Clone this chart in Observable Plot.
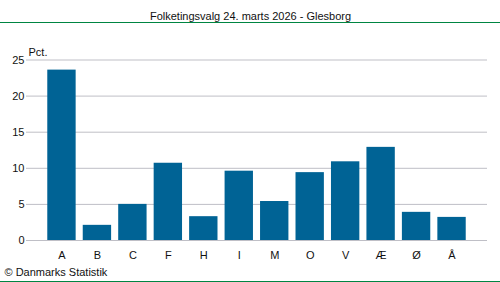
<!DOCTYPE html>
<html>
<head>
<meta charset="utf-8">
<script src="https://cdn.jsdelivr.net/npm/d3@7"></script>
<script src="https://cdn.jsdelivr.net/npm/@observablehq/plot@0.6"></script>
<style>
  html, body { margin: 0; padding: 0; background: #fff; }
  #wrap { position: relative; width: 500px; height: 282px; overflow: hidden; }
  .gline { position: absolute; left: 0; width: 500px; height: 1px; background: #008542; }
</style>
</head>
<body>
<div id="wrap">
  <div class="gline" style="top:22px"></div>
  <div class="gline" style="top:281px"></div>
</div>
<script>
const titleText = "Folketingsvalg 24. marts 2026 - Glesborg";
const unitLabel = "Pct.";
const captionText = "© Danmarks Statistik";
const parties = ["A", "B", "C", "F", "H", "I", "M", "O", "V", "Æ", "Ø", "Å"];
const values = [23.6, 2.1, 5.0, 10.7, 3.3, 9.6, 5.4, 9.4, 10.9, 12.9, 3.9, 3.2];
const yTicks = [0, 5, 10, 15, 20, 25];

const data = parties.map((p, i) => ({party: p, value: values[i]}));

const chart = Plot.plot({
  width: 500,
  height: 282,
  marginTop: 59.5,
  marginBottom: 42,
  marginLeft: 26,
  marginRight: 13,
  style: {fontFamily: "'Liberation Sans', Arial, sans-serif", fontSize: "11px", color: "#111", background: "transparent"},
  x: {domain: parties, paddingInner: 0.2, paddingOuter: 0.6, round: false, label: null},
  y: {domain: [0, 25], label: null},
  marks: [
    Plot.ruleY(yTicks, {stroke: "#bfbfc6", strokeWidth: 1}),
    Plot.barY(data, {x: "party", y: "value", fill: "#006395"}),
    Plot.axisY({ticks: yTicks, tickSize: 0, tickPadding: 2, label: null, fontSize: 11}),
    Plot.axisX({tickSize: 0, tickPadding: 11, label: null, fontSize: 11}),
    Plot.text([titleText], {text: d => d, frameAnchor: "top-left", textAnchor: "middle", lineAnchor: "bottom", dx: 224, dy: -40.5, fontSize: 11, fill: "#111"}),
    Plot.text([unitLabel], {text: d => d, frameAnchor: "top-left", textAnchor: "start", lineAnchor: "bottom", dx: 2, dy: -4, fontSize: 11, fill: "#111"}),
    Plot.text([captionText], {text: d => d, frameAnchor: "bottom-left", textAnchor: "start", lineAnchor: "bottom", dx: -22, dy: 35.3, fontSize: 11, fill: "#111"})
  ]
});
chart.style.position = "absolute";
chart.style.left = "0";
chart.style.top = "0";
document.getElementById("wrap").appendChild(chart);
</script>
</body>
</html>
